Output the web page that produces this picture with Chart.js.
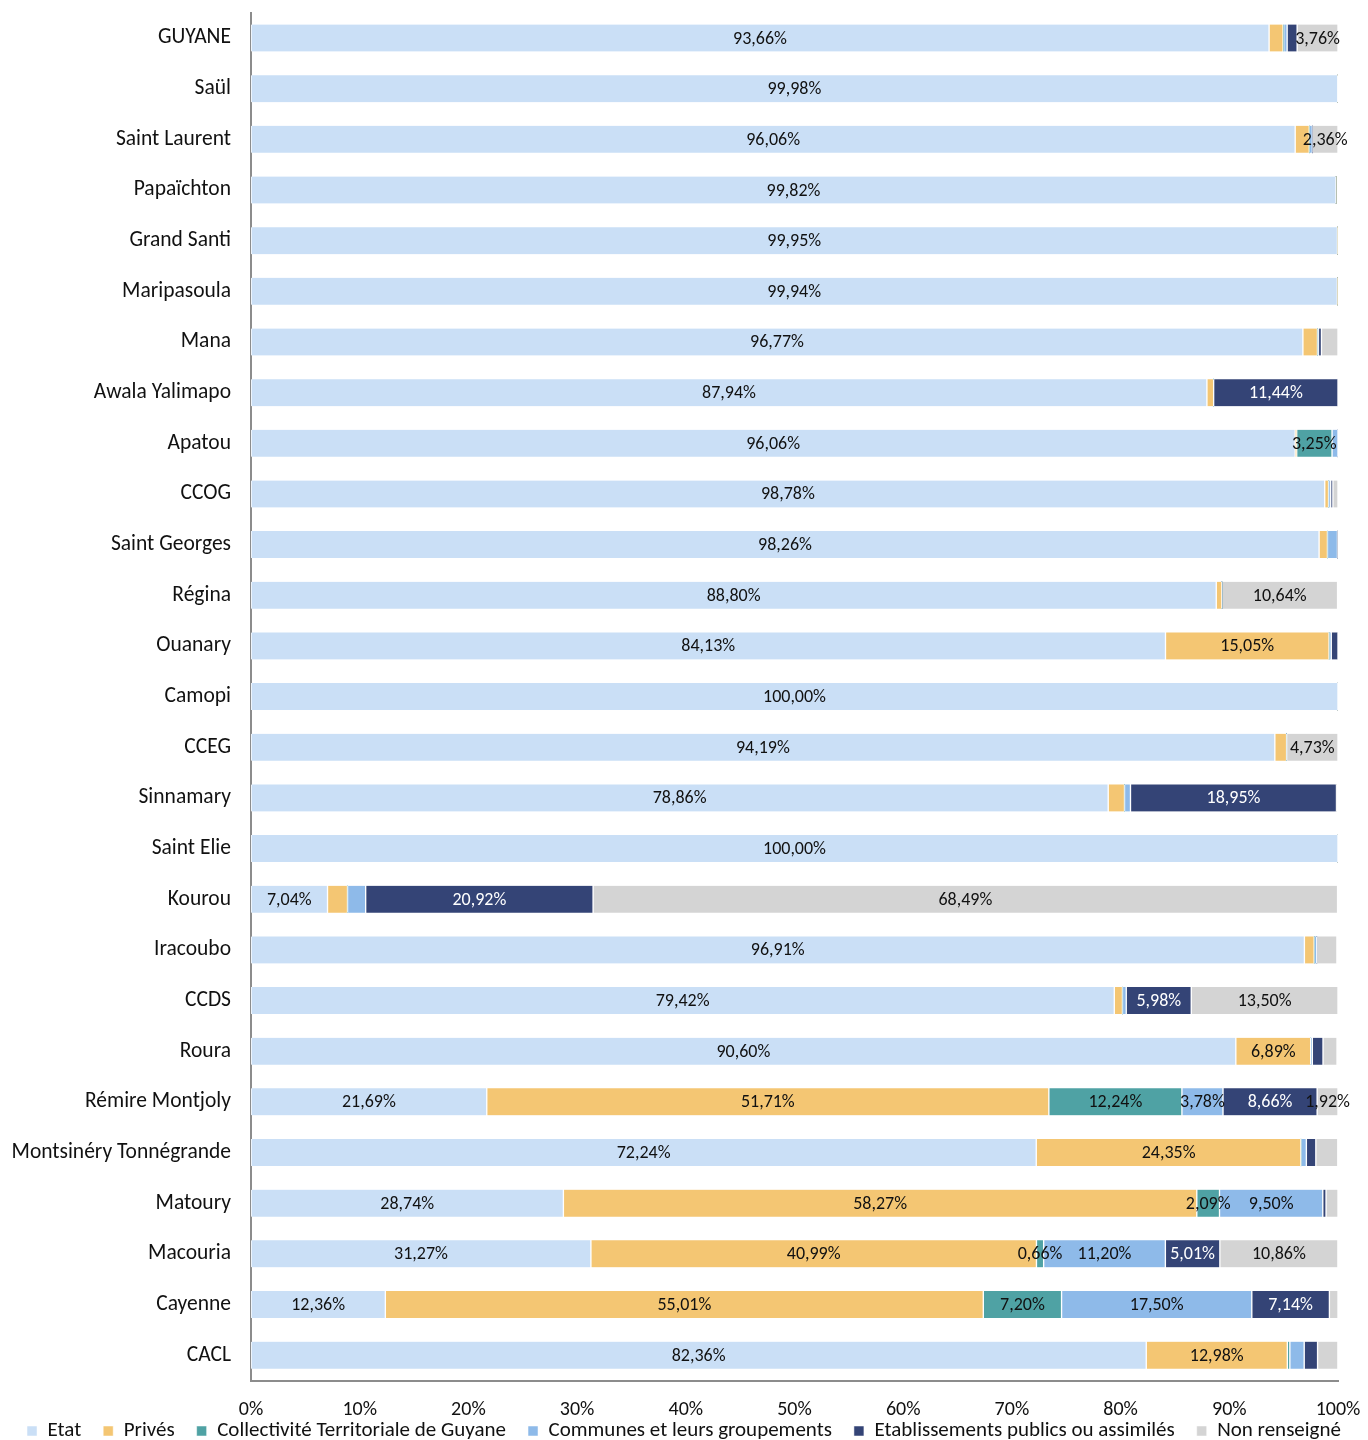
<!DOCTYPE html>
<html>
<head>
<meta charset="utf-8">
<script src="https://cdn.jsdelivr.net/npm/chart.js@4/dist/chart.umd.min.js"></script>
<style>
  html, body { margin: 0; padding: 0; background: #fff; }
  #wrap { width: 1368px; height: 1440px; position: relative; }
</style>
</head>
<body>
<div id="wrap"><canvas id="c"></canvas></div>
<script>
const categories = ["GUYANE","Saül","Saint Laurent","Papaïchton","Grand Santi","Maripasoula","Mana","Awala Yalimapo","Apatou","CCOG","Saint Georges","Régina","Ouanary","Camopi","CCEG","Sinnamary","Saint Elie","Kourou","Iracoubo","CCDS","Roura","Rémire Montjoly","Montsinéry Tonnégrande","Matoury","Macouria","Cayenne","CACL"];

const seriesNames = ["Etat","Privés","Collectivité Territoriale de Guyane","Communes et leurs groupements","Etablissements publics ou assimilés","Non renseigné"];

const etat     = [93.66,99.98,96.06,99.82,99.95,99.94,96.77,87.94,96.06,98.78,98.26,88.80,84.13,100.00,94.19,78.86,100.00,7.04,96.91,79.42,90.60,21.69,72.24,28.74,31.27,12.36,82.36];
const prives   = [1.29,0,1.30,0,0,0,1.34,0.62,0.14,0.35,0.77,0.52,15.05,0,1.08,1.50,0,1.84,0.90,0.75,6.89,51.71,24.35,58.27,40.99,55.01,12.98];
const ctg      = [0.05,0,0,0,0,0,0,0,3.25,0,0,0,0,0,0,0,0,0,0,0,0,12.24,0,2.09,0.66,7.20,0.23];
const communes = [0.32,0,0.28,0,0,0,0.09,0,0.55,0.20,0.92,0,0.20,0,0,0.55,0,1.67,0.24,0.35,0.15,3.78,0.50,9.50,11.20,17.50,1.32];
const etab     = [0.92,0,0,0,0,0,0.28,11.44,0,0.20,0,0,0.62,0,0,18.95,0,20.92,0,5.98,0.98,8.66,0.87,0.30,5.01,7.14,1.23];
const nonRens  = [3.76,0.02,2.36,0,0,0,1.52,0,0,0.47,0,10.64,0,0,4.73,0,0,68.49,1.85,13.50,1.29,1.92,2.02,1.10,10.86,0.79,1.87];

const xTicks = [0,10,20,30,40,50,60,70,80,90,100];

// which category values carry a printed data label, per series
const labelledEtat     = categories.slice();
const labelledPrives   = ["Ouanary","Roura","Rémire Montjoly","Montsinéry Tonnégrande","Matoury","Macouria","Cayenne","CACL"];
const labelledCtg      = ["Apatou","Rémire Montjoly","Matoury","Macouria","Cayenne"];
const labelledCommunes = ["Rémire Montjoly","Matoury","Macouria","Cayenne"];
const labelledEtab     = ["Awala Yalimapo","Sinnamary","Kourou","CCDS","Rémire Montjoly","Macouria","Cayenne"];
const labelledNonRens  = ["GUYANE","Saint Laurent","Régina","CCEG","Kourou","CCDS","Rémire Montjoly","Macouria"];

const colors = ["#CADFF6","#F4C673","#4FA2A4","#8EBAE9","#344476","#D4D4D4"];
const values = [etat, prives, ctg, communes, etab, nonRens];
const labelled = [labelledEtat, labelledPrives, labelledCtg, labelledCommunes, labelledEtab, labelledNonRens];
const labelColors = ["#111","#111","#111","#111","#fff","#111"];

const FONT = "Carlito, Lato, 'Liberation Sans', sans-serif";
const LEGEND_FONT = 21;
const LEGEND_PAD = 22;
const LEGEND_H = 41.5;

const datasets = seriesNames.map((n, i) => ({
  label: n,
  data: values[i],
  backgroundColor: colors[i],
  borderColor: "#ffffff",
  borderWidth: {left: 1, right: 1, top: 0, bottom: 0},
  borderSkipped: false,
  barThickness: 27,
  labelled: labelled[i],
  labelColor: labelColors[i]
}));

const labelPlugin = {
  id: 'segLabels',
  afterDatasetsDraw(chart) {
    const ctx = chart.ctx;
    ctx.save();
    ctx.font = "18px " + FONT;
    ctx.textAlign = "center";
    ctx.textBaseline = "middle";
    chart.data.datasets.forEach((ds, di) => {
      const meta = chart.getDatasetMeta(di);
      meta.data.forEach((el, i) => {
        const v = ds.data[i];
        if (!v || ds.labelled.indexOf(categories[i]) < 0) return;
        const p = el.getProps(['x','y','base'], true);
        const cx = (p.x + p.base) / 2;
        ctx.fillStyle = ds.labelColor;
        ctx.fillText(v.toFixed(2).replace('.', ',') + '%', cx, p.y + 1);
      });
    });
    ctx.restore();
  }
};

// keep the legend box compact so the plot area reaches down as in the reference
const legendFitPlugin = {
  id: 'legendFit',
  beforeLayout(chart) {
    const lg = chart.legend;
    if (lg && !lg._wrappedFit) {
      const f = lg.fit;
      lg.fit = function () { f.call(this); this.height = LEGEND_H; };
      lg._wrappedFit = true;
    }
  }
};

new Chart(document.getElementById('c'), {
  type: 'bar',
  data: { labels: categories, datasets: datasets },
  plugins: [labelPlugin, legendFitPlugin],
  options: {
    indexAxis: 'y',
    responsive: true,
    maintainAspectRatio: false,
    animation: false,
    layout: { padding: { left: 0, top: 12.7, right: 0, bottom: 0 } },
    plugins: {
      tooltip: { enabled: false },
      legend: {
        position: 'bottom',
        labels: {
          boxWidth: 10, boxHeight: 10, padding: LEGEND_PAD,
          color: '#111',
          font: { family: FONT, size: LEGEND_FONT }
        }
      }
    },
    scales: {
      x: {
        stacked: true,
        min: 0, max: 100,
        afterBuildTicks(scale) { scale.ticks = xTicks.map(v => ({ value: v })); },
        afterFit(scale) {
          scale.height = 18;
          scale.paddingLeft = 0;
          scale.paddingRight = 30;
          scale._computeLabelArea = function () { return undefined; };
        },
        ticks: {
          color: '#111',
          font: { family: FONT, size: 20 },
          callback: v => v + '%',
          maxRotation: 0,
          autoSkip: false,
          padding: 17
        },
        grid: { display: false, drawTicks: false },
        border: { display: true, color: '#8C8C8C', width: 2 }
      },
      y: {
        stacked: true,
        afterFit(scale) { scale.width = 251; scale.paddingTop = 0; scale.paddingBottom = 0; },
        ticks: {
          color: '#111',
          font: { family: FONT, size: 21.5 },
          padding: 20
        },
        grid: { display: false, drawTicks: false },
        border: { display: true, color: '#8C8C8C', width: 2 }
      }
    }
  }
});
</script>
</body>
</html>
